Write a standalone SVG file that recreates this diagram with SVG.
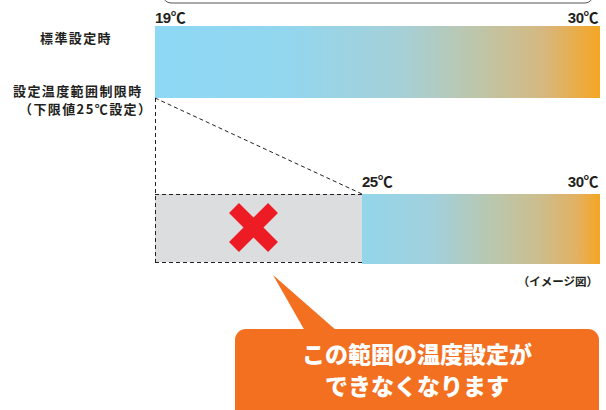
<svg xmlns="http://www.w3.org/2000/svg" width="606" height="410" viewBox="0 0 606 410">
<defs>
<linearGradient id="gTop" x1="0" y1="0" x2="1" y2="0">
<stop offset="0" stop-color="#8dd8f5"/>
<stop offset="0.3" stop-color="#93d6ee"/>
<stop offset="0.55" stop-color="#a5d0d8"/>
<stop offset="0.72" stop-color="#bdc6ab"/>
<stop offset="0.87" stop-color="#d6b881"/>
<stop offset="1" stop-color="#f5a623"/>
</linearGradient>
<linearGradient id="gBot" x1="0" y1="0" x2="1" y2="0">
<stop offset="0" stop-color="#93d5ea"/>
<stop offset="0.3" stop-color="#a2d0dc"/>
<stop offset="0.55" stop-color="#bac7ad"/>
<stop offset="0.75" stop-color="#cdbd8c"/>
<stop offset="0.9" stop-color="#e2b163"/>
<stop offset="1" stop-color="#f5a623"/>
</linearGradient>
<style>
.val{font-family:"Liberation Sans","Noto Sans CJK JP",sans-serif;font-weight:bold;font-size:15px;fill:#231f20;letter-spacing:-0.5px}
.lbl{font-family:"Noto Sans CJK JP",sans-serif;font-weight:bold;font-size:13px;fill:#231f20;letter-spacing:1.4px}
.note{font-family:"Noto Sans CJK JP",sans-serif;font-weight:bold;font-size:11.5px;fill:#231f20}
.call{font-family:"Noto Sans CJK JP",sans-serif;font-weight:900;font-size:23px;fill:#ffffff;text-anchor:middle}
.dash{fill:none;stroke:#231f20;stroke-width:1;stroke-dasharray:4 3}
</style>
</defs>
<rect width="606" height="410" fill="#ffffff"/>
<rect x="163" y="-20" width="430" height="23" rx="8" fill="none" stroke="#555555" stroke-width="1"/>

<g id="labels">
<text class="lbl" x="40" y="43">標準設定時</text>
<text class="lbl" x="13" y="96">設定温度範囲制限時</text>
<text class="lbl" x="19" y="114" letter-spacing="-0.6">（下限値25℃設定）</text>
</g>

<g id="standard-bar">
<rect x="155" y="26" width="445" height="72" fill="url(#gTop)"/>
<text class="val" x="155" y="23">19℃</text>
<text class="val" x="598" y="23" text-anchor="end">30℃</text>
</g>

<g id="disabled-range">
<rect x="155" y="194" width="207" height="68" fill="#dcdddf"/>
<g transform="translate(253.5,227.5)" fill="#ed1c24">
<rect x="-27.6" y="-7" width="55.2" height="14" transform="rotate(45)"/>
<rect x="-27.6" y="-7" width="55.2" height="14" transform="rotate(-45)"/>
</g>
</g>

<g id="limited-bar">
<rect x="362" y="194" width="238" height="70" fill="url(#gBot)"/>
<text class="val" x="362" y="187">25℃</text>
<text class="val" x="598" y="187" text-anchor="end">30℃</text>
</g>

<g id="connectors">
<line class="dash" x1="155.5" y1="98" x2="155.5" y2="262"/>
<line class="dash" x1="155" y1="98" x2="362" y2="194"/>
<line class="dash" x1="155" y1="194.5" x2="362" y2="194.5"/>
<line class="dash" x1="155" y1="262.5" x2="362" y2="262.5"/>
</g>

<g id="note">
<text class="note" x="598" y="286" text-anchor="end">（イメージ図）</text>
</g>

<g id="callout">
<path d="M273 275 L337 331 L305 331 Z" fill="#f37021"/>
<rect x="235" y="329" width="364" height="100" rx="11" fill="#f37021"/>
<text class="call" x="417" y="363">この範囲の温度設定が</text>
<text class="call" x="417" y="395">できなくなります</text>
</g>
</svg>
